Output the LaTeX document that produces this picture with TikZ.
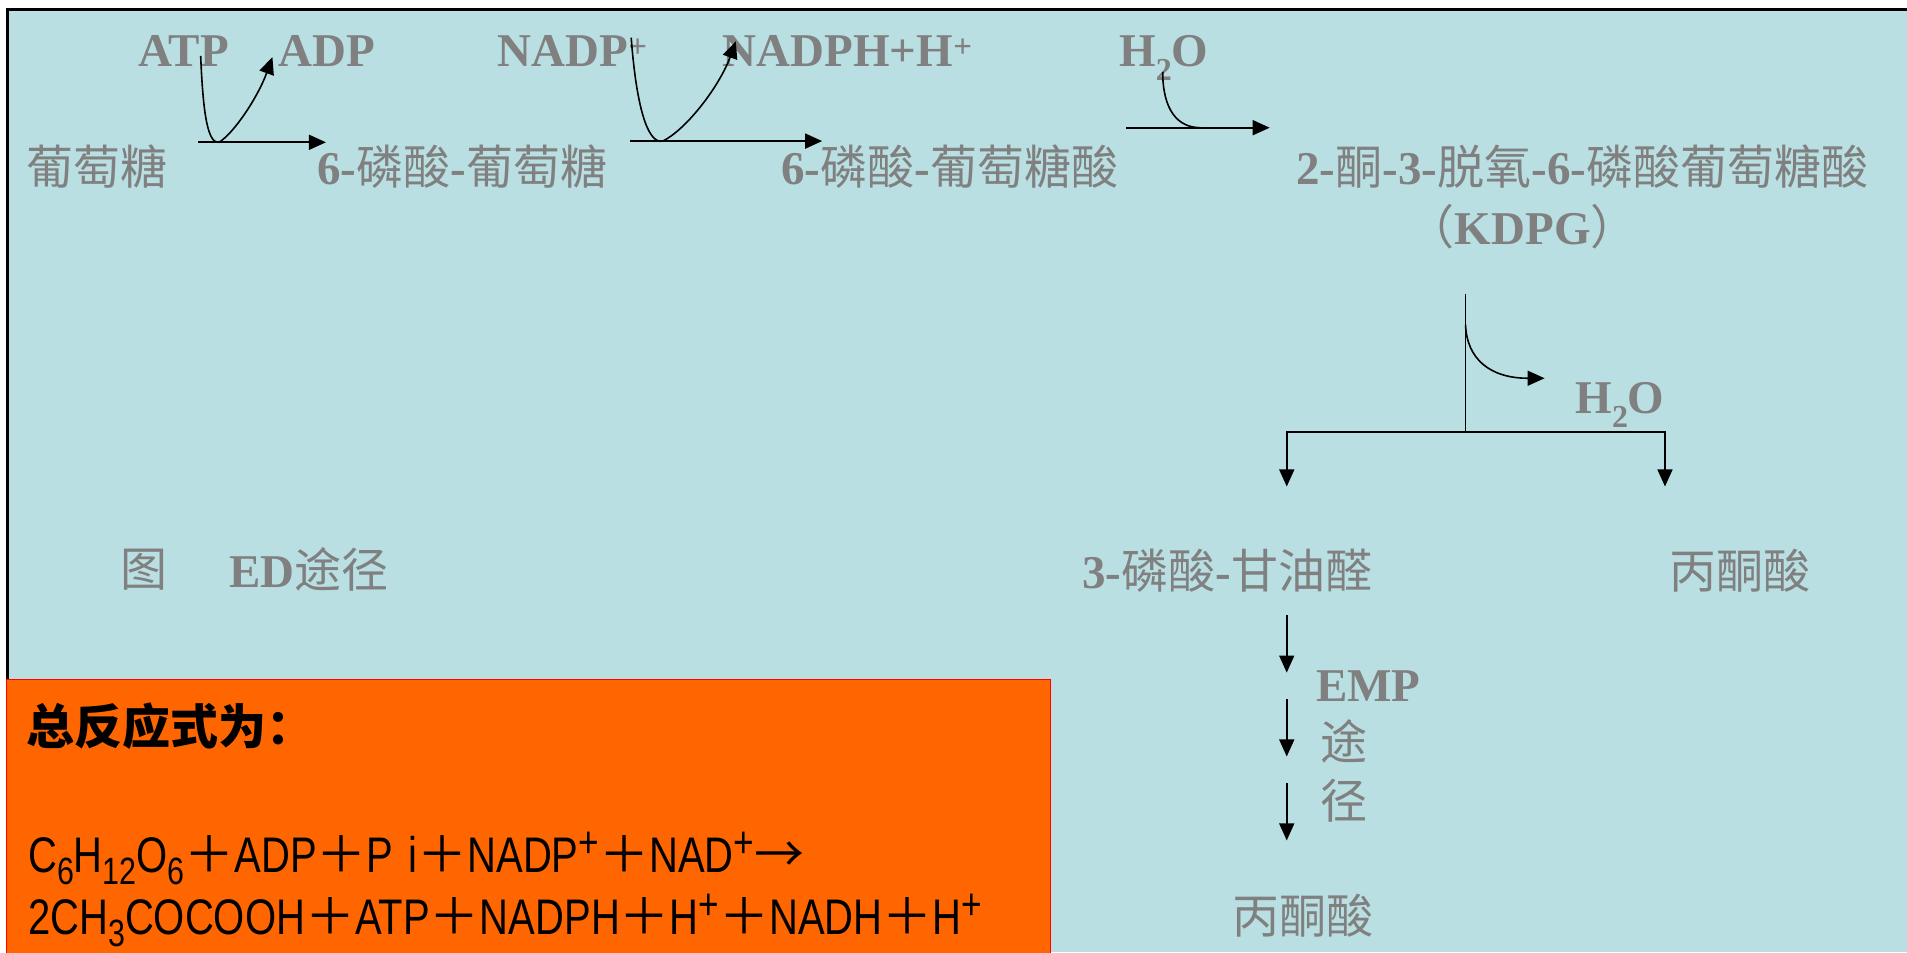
\documentclass[tikz,border=0pt]{standalone}
\usepackage{fontspec}
\setmainfont{Liberation Serif}
\newfontfamily\cjk{Noto Sans CJK SC}
\newfontfamily\boxlatin{Liberation Sans}[FakeStretch=0.8]
\usetikzlibrary{arrows.meta}
\definecolor{bgblue}{RGB}{185,223,226}
\definecolor{txtgray}{RGB}{128,128,128}
\definecolor{boxorange}{RGB}{255,102,0}
\newcommand\zhs[1]{{\mdseries\cjk #1}}
\newcommand\lowsub[1]{\raisebox{-0.3em}{\fontsize{32}{32}\selectfont #1}}
\newcommand\bsub[1]{\raisebox{-0.24em}{\fontsize{38}{38}\selectfont #1}}
\newcommand\bsup{\raisebox{0.3em}{\fontsize{44}{44}\selectfont +}}
\newcommand\pl{{\cjk ＋}}
\tikzset{
  gt/.style={text=txtgray, font=\fontsize{47}{52}\selectfont\bfseries, inner sep=0pt},
  bt/.style={text=black, font=\fontsize{50}{56}\selectfont\boxlatin, inner sep=0pt, anchor=base west},
  conn/.style={line width=1.6pt},
  arr/.style={line width=1.6pt, -{Triangle[length=17pt,width=15pt]}},
}
\begin{document}
\begin{tikzpicture}[x=1.2163pt,y=-1.2163pt]
\useasboundingbox (0,0) rectangle (1568,783);
\fill[white] (0,0) rectangle (1568,783);
\fill[bgblue] (6,8) rectangle (1568,783);
\draw[line width=2.6pt] (6,558) -- (6,8) -- (1568,8);

% top row texts
\node[gt, anchor=base] (atp) at (151,55) {ATP};
\node[gt, anchor=base] (adp) at (269,55) {ADP};
\node[gt, anchor=base] (nadp) at (471,55) {NADP\textsuperscript{+}};
\node[gt, anchor=base] (nadph) at (697,55) {NADPH+H\textsuperscript{+}};
\node[gt, anchor=base] (wat1) at (957,55) {H\lowsub{2}O};

\node[gt] (glc) at (80,137) {\zhs{葡萄糖}};
\node[gt] (g6p) at (380,137) {6-\zhs{磷酸}-\zhs{葡萄糖}};
\node[gt] (pg6) at (781,137) {6-\zhs{磷酸}-\zhs{葡萄糖酸}};
\node[gt] (kdpg) at (1301,137) {2-\zhs{酮}-3-\zhs{脱氧}-6-\zhs{磷酸葡萄糖酸}};
\node[gt] (kdpgb) at (1252,186) {\zhs{（}KDPG\zhs{）}};

\node[gt, anchor=base] (wat2) at (1332,340) {H\lowsub{2}O};

\node[gt] (fig) at (118,468) {\zhs{图}};
\node[gt] (ed) at (254,468) {ED\zhs{途径}};
\node[gt] (gap) at (1009,469) {3-\zhs{磷酸}-\zhs{甘油醛}};
\node[gt] (pyr1) at (1431,469) {\zhs{丙酮酸}};

\node[gt, anchor=base] (emp) at (1125,577) {EMP};
\node[gt] (tu) at (1105,610) {\zhs{途}};
\node[gt] (jing) at (1105,658) {\zhs{径}};
\node[gt] (pyr2) at (1071,753) {\zhs{丙酮酸}};

% connectors, step 1
\coordinate (s1a) at (163,117); \coordinate (s1b) at (268,117);
\coordinate (c1s) at (165,46); \coordinate (c1m) at (180,117); \coordinate (c1e) at (224,47);
\draw[arr] (s1a) -- (s1b);
\draw[arr] (c1s) .. controls (167,95) and (171,118) .. (c1m) .. controls (192,110) and (212,80) .. (c1e);

% step 2
\coordinate (s2a) at (518,116); \coordinate (s2b) at (676,116);
\coordinate (c2s) at (519,31); \coordinate (c2m) at (545,116); \coordinate (c2e) at (605,34);
\draw[arr] (s2a) -- (s2b);
\draw[arr] (c2s) .. controls (523,85) and (532,119) .. (c2m) .. controls (565,106) and (592,70) .. (c2e);

% step 3
\coordinate (s3a) at (926,105); \coordinate (s3b) at (1044,105);
\coordinate (c3s) at (956,59); \coordinate (c3e) at (987,105);
\draw[arr] (s3a) -- (s3b);
\draw[conn] (c3s) .. controls (956,90) and (968,105) .. (c3e);

% split
\coordinate (v1) at (1205,242); \coordinate (v2) at (1205,355);
\coordinate (vc) at (1205,267); \coordinate (vce) at (1270,311);
\coordinate (hl) at (1058,355); \coordinate (hr) at (1369,355);
\coordinate (dl) at (1058,400); \coordinate (dr) at (1369,400);
\draw[conn] (v1) -- (v2);
\draw[arr] (vc) .. controls (1206,295) and (1225,311) .. (vce);
\draw[arr] (v2) -- (hl) -- (dl);
\draw[arr] (v2) -- (hr) -- (dr);

% EMP arrows
\coordinate (e1a) at (1058,506); \coordinate (e1b) at (1058,553);
\coordinate (e2a) at (1058,575); \coordinate (e2b) at (1058,622);
\coordinate (e3a) at (1058,644); \coordinate (e3b) at (1058,691);
\draw[arr] (e1a) -- (e1b);
\draw[arr] (e2a) -- (e2b);
\draw[arr] (e3a) -- (e3b);

% orange box
\node[fill=boxorange, draw=red, line width=1pt, anchor=north west, inner sep=0pt,
      minimum width=1043.6pt, minimum height=290pt] (box) at (5,558) {};
\node[text=black, font=\fontsize{48}{54}\selectfont\bfseries\cjk, inner sep=0pt, anchor=west] (title) at (22,597) {总反应式为：};
\node[bt] (eq1) at (23,717) {C\bsub{6}H\bsub{12}O\bsub{6}\pl ADP\pl P\kern0.3em i\pl NADP\bsup\pl NAD\bsup{\cjk →}};
\node[bt] (eq2) at (23,768) {2CH\bsub{3}COCOOH\pl ATP\pl NADPH\pl H\bsup\pl NADH\pl H\bsup};
\end{tikzpicture}
\end{document}
